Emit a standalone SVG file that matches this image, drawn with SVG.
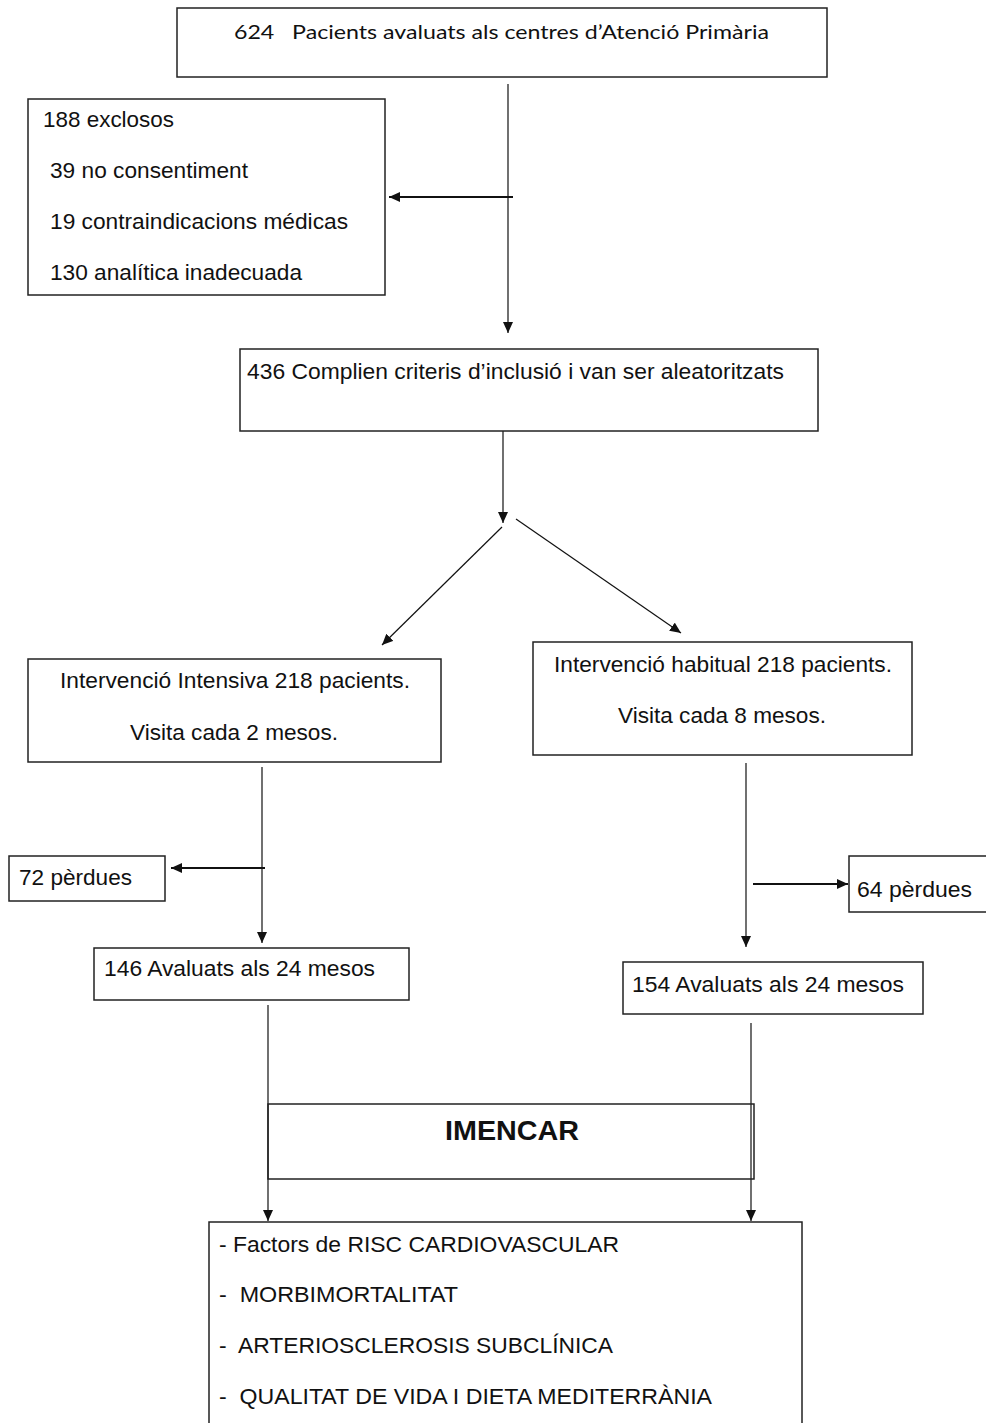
<svg xmlns="http://www.w3.org/2000/svg" width="986" height="1423" viewBox="0 0 986 1423">
<style>
text{white-space:pre}
.box{fill:none;stroke:#222;stroke-width:1.5}
.t{font-family:"Liberation Sans",Arial,sans-serif;font-size:21.5px;fill:#111}
.tc{font-family:Lato,"Open Sans",sans-serif;font-size:19px;fill:#111}
.b{font-family:"Liberation Sans",Arial,sans-serif;font-size:27px;font-weight:bold;fill:#111}
.c{fill:none;stroke:#111;stroke-width:1.2}
.k{fill:none;stroke:#111;stroke-width:2.2}
</style>
<defs>
<marker id="ah" markerUnits="userSpaceOnUse" markerWidth="12" markerHeight="10" refX="11" refY="5" orient="auto">
<path d="M0,0 L11,5 L0,10 z" fill="#111"/>
</marker>
</defs>
<rect width="986" height="1423" fill="#fff"/>
<g id="connectors">
<line class="c" x1="508" y1="84" x2="508" y2="333" marker-end="url(#ah)"/>
<line class="k" x1="513" y1="197" x2="389" y2="197" marker-end="url(#ah)"/>
<line class="c" x1="503" y1="431" x2="503" y2="523" marker-end="url(#ah)"/>
<line class="c" x1="502" y1="527" x2="382" y2="645" marker-end="url(#ah)"/>
<line class="c" x1="516" y1="519" x2="681" y2="633" marker-end="url(#ah)"/>
<line class="c" x1="262" y1="767" x2="262" y2="943" marker-end="url(#ah)"/>
<line class="k" x1="265" y1="868" x2="171" y2="868" marker-end="url(#ah)"/>
<line class="c" x1="746" y1="763" x2="746" y2="947" marker-end="url(#ah)"/>
<line class="k" x1="753" y1="884" x2="848" y2="884" marker-end="url(#ah)"/>
<line class="c" x1="268" y1="1005" x2="268" y2="1221" marker-end="url(#ah)"/>
<line class="c" x1="751" y1="1023" x2="751" y2="1221" marker-end="url(#ah)"/>
</g>
<g id="n-top">
<rect class="box" x="177" y="8" width="650" height="69"/>
<text class="tc" x="234" y="39" textLength="535" lengthAdjust="spacingAndGlyphs">624   Pacients avaluats als centres d’Atenció Primària</text>
</g>
<g id="n-exclosos">
<rect class="box" x="28" y="99" width="357" height="196"/>
<text class="t" x="43" y="127" textLength="131" lengthAdjust="spacingAndGlyphs">188 exclosos</text>
<text class="t" x="50" y="178" textLength="198" lengthAdjust="spacingAndGlyphs">39 no consentiment</text>
<text class="t" x="50" y="229" textLength="298" lengthAdjust="spacingAndGlyphs">19 contraindicacions médicas</text>
<text class="t" x="50" y="280" textLength="252" lengthAdjust="spacingAndGlyphs">130 analítica inadecuada</text>
</g>
<g id="n-aleatoritzats">
<rect class="box" x="240" y="349" width="578" height="82"/>
<text class="t" x="247" y="379" textLength="537" lengthAdjust="spacingAndGlyphs">436 Complien criteris d’inclusió i van ser aleatoritzats</text>
</g>
<g id="n-intensiva">
<rect class="box" x="28" y="659" width="413" height="103"/>
<text class="t" x="60" y="688" textLength="350" lengthAdjust="spacingAndGlyphs">Intervenció Intensiva 218 pacients.</text>
<text class="t" x="130" y="740" textLength="208" lengthAdjust="spacingAndGlyphs">Visita cada 2 mesos.</text>
</g>
<g id="n-habitual">
<rect class="box" x="533" y="642" width="379" height="113"/>
<text class="t" x="554" y="672" textLength="338" lengthAdjust="spacingAndGlyphs">Intervenció habitual 218 pacients.</text>
<text class="t" x="618" y="723" textLength="208" lengthAdjust="spacingAndGlyphs">Visita cada 8 mesos.</text>
</g>
<g id="n-perdues72">
<rect class="box" x="9" y="856" width="156" height="45"/>
<text class="t" x="19" y="885" textLength="113" lengthAdjust="spacingAndGlyphs">72 pèrdues</text>
</g>
<g id="n-perdues64">
<rect class="box" x="849" y="856" width="145" height="56"/>
<text class="t" x="857" y="897" textLength="115" lengthAdjust="spacingAndGlyphs">64 pèrdues</text>
</g>
<g id="n-avaluats146">
<rect class="box" x="94" y="948" width="315" height="52"/>
<text class="t" x="104" y="976" textLength="271" lengthAdjust="spacingAndGlyphs">146 Avaluats als 24 mesos</text>
</g>
<g id="n-avaluats154">
<rect class="box" x="623" y="962" width="300" height="52"/>
<text class="t" x="632" y="992" textLength="272" lengthAdjust="spacingAndGlyphs">154 Avaluats als 24 mesos</text>
</g>
<g id="n-imencar">
<rect class="box" x="268" y="1104" width="486" height="75"/>
<text class="b" x="445" y="1140" textLength="134" lengthAdjust="spacingAndGlyphs">IMENCAR</text>
</g>
<g id="n-resultats">
<rect class="box" x="209" y="1222" width="593" height="230"/>
<text class="t" x="219" y="1252" textLength="400" lengthAdjust="spacingAndGlyphs">- Factors de RISC CARDIOVASCULAR</text>
<text class="t" x="219" y="1302" textLength="239" lengthAdjust="spacingAndGlyphs">-  MORBIMORTALITAT</text>
<text class="t" x="219" y="1353" textLength="394" lengthAdjust="spacingAndGlyphs">-  ARTERIOSCLEROSIS SUBCLÍNICA</text>
<text class="t" x="219" y="1404" textLength="493" lengthAdjust="spacingAndGlyphs">-  QUALITAT DE VIDA I DIETA MEDITERRÀNIA</text>
</g>
</svg>
